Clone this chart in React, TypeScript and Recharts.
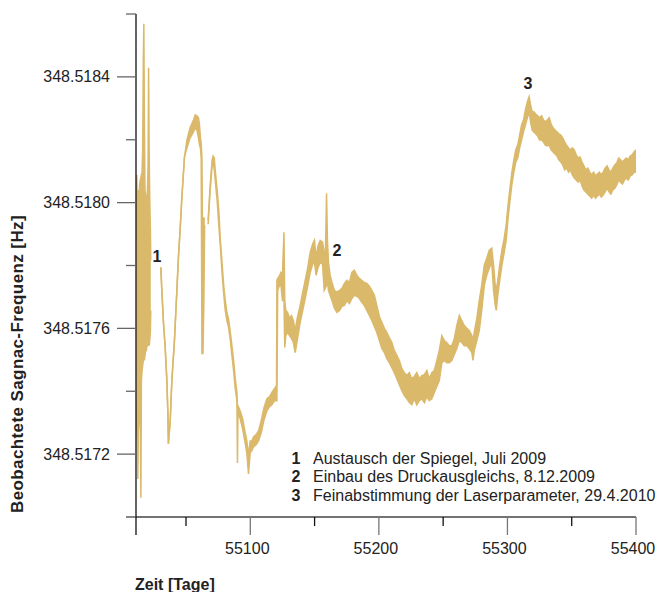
import React from "react";
import { AreaChart, Area, XAxis, YAxis } from "recharts";

const BASE_HZ = 348.517;
const FONT = '"Liberation Sans", Arial, Helvetica, sans-serif';
const LINE_COLOR = "#DBB96B";

const xStartDay = 55011.1;
const xMajorTicks = [55100, 55200, 55300, 55400];
const xMinorTicks = [55050, 55150, 55250, 55350];
const yMajorTicks = [348.5172, 348.5176, 348.518, 348.5184];
const yMinorTicks = [348.5174, 348.5178, 348.5182, 348.5186];

// [day, upper edge, lower edge] – edges in µHz above 348.517 Hz
const burst = [
  [55011.3, 880, 370], [55011.7, 1088, 274], [55012.1, 1008, 242], [55012.5, 1040, 121],
  [55012.9, 976, 274], [55013.4, 1008, 306], [55013.9, 1056, 370], [55014.4, 1072, 306],
  [55014.9, 1078, 61], [55015.3, 1088, 434], [55015.8, 1097, 466], [55016.3, 1168, 482],
  [55016.8, 1455, 498], [55017.2, 1569, 514], [55017.6, 1263, 498], [55018.1, 1040, 514],
  [55018.6, 1024, 530], [55019.1, 1008, 530], [55019.6, 992, 545], [55020.1, 1056, 545],
  [55020.5, 1120, 561], [55020.9, 1429, 552], [55021.3, 1168, 545], [55021.8, 1008, 561],
  [55022.3, 912, 593], [55022.6, 817, 657],
];

const firstArc = [
  [55030.4, 794, 794], [55031.2, 721, 721], [55032.5, 616, 616], [55033.8, 539, 539],
  [55035.1, 434, 434], [55035.9, 329, 329], [55036.3, 233, 233], [55037.7, 306, 306],
  [55039.0, 434, 434], [55041.0, 561, 561], [55042.9, 721, 721], [55044.1, 826, 826],
  [55045.4, 912, 912], [55046.8, 1018, 1018], [55048.8, 1145, 1145], [55050.7, 1199, 1174],
  [55053.2, 1238, 1206], [55055.8, 1263, 1225], [55057.2, 1279, 1238], [55058.5, 1276, 1231],
  [55059.7, 1270, 1206], [55060.5, 1247, 1183], [55061.2, 1206, 1174], [55061.8, 1190, 1142],
  [55062.4, 1142, 520], [55063.2, 689, 520], [55063.9, 951, 689], [55064.5, 951, 928],
];

const mainRun = [
  [55067.2, 944, 931], [55068.8, 1056, 1040], [55070.3, 1136, 1117], [55071.1, 1148, 1129],
  [55072.0, 1142, 1104], [55072.7, 1104, 1072], [55074.2, 1040, 1008], [55075.5, 976, 928],
  [55076.6, 887, 868], [55078.0, 810, 778], [55079.3, 737, 711], [55080.5, 689, 657],
  [55081.8, 651, 625], [55083.0, 632, 606], [55084.3, 593, 568], [55085.7, 545, 514],
  [55087.0, 498, 466], [55088.3, 440, 408], [55089.6, 396, 370], [55090.0, 348, 172],
  [55090.4, 354, 332], [55092.1, 338, 313], [55094.0, 313, 281], [55096.0, 268, 236],
  [55097.3, 242, 204], [55098.6, 195, 137], [55099.9, 242, 204], [55101.2, 242, 211],
  [55102.5, 255, 223], [55104.5, 262, 230], [55106.4, 274, 242], [55108.5, 306, 268],
  [55110.5, 345, 306], [55112.9, 376, 338], [55115.0, 383, 351], [55116.8, 396, 357],
  [55118.8, 408, 370], [55120.4, 418, 370], [55120.7, 753, 370], [55121.3, 759, 721],
  [55122.5, 766, 734], [55123.8, 778, 740], [55125.0, 769, 689], [55126.2, 906, 689],
  [55126.8, 689, 539], [55127.6, 657, 577], [55129.0, 651, 587], [55130.5, 632, 577],
  [55132.0, 641, 568], [55133.5, 625, 555], [55134.9, 593, 523], [55136.5, 632, 561],
  [55138.8, 673, 619], [55140.8, 715, 657], [55142.7, 753, 695], [55144.6, 791, 734],
  [55146.6, 842, 778], [55148.5, 868, 804], [55149.9, 880, 810], [55151.2, 823, 769],
  [55152.5, 861, 791], [55154.4, 880, 810], [55156.2, 874, 804], [55157.5, 842, 721],
  [55158.3, 810, 727], [55159.3, 1030, 737], [55160.0, 880, 753], [55160.8, 810, 721],
  [55162.1, 769, 705], [55163.5, 746, 689], [55165.4, 721, 664], [55167.4, 715, 651],
  [55169.4, 721, 657], [55171.3, 727, 670], [55173.2, 743, 673], [55175.2, 753, 689],
  [55177.1, 746, 679], [55179.0, 778, 695], [55180.9, 785, 705], [55182.9, 769, 702],
  [55184.8, 759, 695], [55186.7, 753, 683], [55188.7, 746, 673], [55190.6, 743, 657],
  [55192.6, 734, 641], [55194.5, 721, 625], [55196.5, 705, 606], [55198.4, 673, 587],
  [55200.4, 638, 561], [55202.3, 619, 536], [55204.3, 600, 523], [55206.2, 587, 504],
  [55208.1, 571, 491], [55210.1, 555, 475], [55212.0, 530, 459], [55214.0, 514, 440],
  [55215.9, 498, 421], [55217.9, 472, 402], [55219.8, 459, 386], [55221.8, 450, 376],
  [55223.7, 459, 364], [55225.6, 440, 357], [55227.6, 447, 376], [55229.5, 459, 357],
  [55231.5, 440, 370], [55233.4, 450, 376], [55235.4, 453, 364], [55237.3, 466, 383],
  [55239.2, 440, 370], [55241.2, 459, 376], [55243.1, 466, 396], [55245.1, 498, 415],
  [55247.0, 530, 434], [55249.0, 577, 491], [55250.9, 561, 498], [55252.8, 555, 491],
  [55254.8, 545, 491], [55256.7, 545, 498], [55258.7, 568, 517], [55260.6, 609, 536],
  [55262.6, 641, 561], [55264.5, 625, 555], [55266.4, 609, 545], [55268.4, 600, 545],
  [55270.3, 593, 536], [55272.3, 577, 523], [55273.2, 561, 498], [55274.2, 587, 530],
  [55276.2, 632, 561], [55278.1, 689, 593], [55280.0, 737, 657], [55282.0, 801, 737],
  [55283.9, 823, 769], [55285.9, 849, 791], [55287.8, 855, 810], [55289.2, 801, 721],
  [55290.5, 737, 673], [55291.3, 721, 657], [55292.5, 753, 705], [55294.0, 801, 753],
  [55295.7, 849, 801], [55297.5, 887, 842], [55299.0, 928, 880], [55300.5, 992, 951],
  [55302.0, 1046, 1008], [55303.5, 1097, 1059], [55305.0, 1136, 1097], [55306.5, 1168, 1129],
  [55308.0, 1183, 1142], [55309.5, 1215, 1174], [55311.0, 1247, 1199], [55312.5, 1263, 1225],
  [55314.0, 1295, 1247], [55315.5, 1321, 1270], [55316.9, 1337, 1289], [55318.0, 1311, 1257],
  [55319.2, 1289, 1231], [55320.5, 1289, 1225], [55322.0, 1282, 1219], [55323.5, 1276, 1212],
  [55325.0, 1270, 1199], [55326.5, 1276, 1199], [55328.0, 1263, 1193], [55329.5, 1257, 1183],
  [55331.0, 1263, 1180], [55332.5, 1270, 1183], [55334.0, 1250, 1168], [55335.5, 1238, 1161],
  [55337.0, 1231, 1155], [55338.5, 1225, 1148], [55340.0, 1219, 1136], [55341.5, 1215, 1129],
  [55343.0, 1206, 1120], [55344.5, 1193, 1104], [55346.0, 1183, 1110], [55347.5, 1174, 1097],
  [55349.0, 1168, 1104], [55350.5, 1174, 1088], [55352.0, 1168, 1078], [55353.5, 1152, 1072],
  [55355.0, 1142, 1065], [55356.5, 1145, 1072], [55358.0, 1129, 1053], [55359.5, 1117, 1040],
  [55361.0, 1104, 1034], [55362.5, 1110, 1027], [55364.0, 1097, 1021], [55365.5, 1088, 1014],
  [55367.0, 1097, 1024], [55368.5, 1085, 1014], [55370.0, 1091, 1021], [55371.5, 1097, 1027],
  [55373.0, 1088, 1018], [55374.5, 1097, 1024], [55376.0, 1110, 1034], [55377.5, 1117, 1046],
  [55379.0, 1104, 1034], [55380.5, 1097, 1027], [55382.0, 1110, 1040], [55383.5, 1120, 1046],
  [55385.0, 1126, 1056], [55386.5, 1142, 1072], [55388.0, 1136, 1065], [55389.5, 1129, 1059],
  [55391.0, 1136, 1072], [55392.5, 1142, 1078], [55394.0, 1136, 1072], [55395.5, 1148, 1085],
  [55397.0, 1152, 1088], [55398.5, 1161, 1097], [55400.0, 1168, 1097],
];

const events = [
  { n: "1", text: "Austausch der Spiegel, Juli 2009" },
  { n: "2", text: "Einbau des Druckausgleichs, 8.12.2009" },
  { n: "3", text: "Feinabstimmung der Laserparameter, 29.4.2010" },
];

// marker labels placed next to the trace (pixel centres)
const markers = [
  { n: "1", x: 157, y: 257 },
  { n: "2", x: 337, y: 251 },
  { n: "3", x: 528, y: 84 },
];

type Row = { day: number; band: [number, number] | null };

const segments = [burst, firstArc, mainRun];
const data: Row[] = [];
segments.forEach((seg, i) => {
  if (i > 0) {
    const prev = segments[i - 1];
    data.push({ day: (prev[prev.length - 1][0] + seg[0][0]) / 2, band: null });
  }
  for (const [day, hi, lo] of seg) {
    data.push({ day, band: [BASE_HZ + lo / 1e6, BASE_HZ + hi / 1e6] });
  }
});

function XTick(props: any) {
  const { x, y, payload } = props;
  const v = payload.value;
  if (xMajorTicks.includes(v)) {
    return (
      <g>
        <line x1={x} y1={y} x2={x} y2={y + 18} stroke="#777" strokeWidth={1.3} />
        <text x={x - 3} y={y + 31} textAnchor="middle" dominantBaseline="central" fontFamily={FONT} fontSize={16} fill="#222">
          {v}
        </text>
      </g>
    );
  }
  if (v === xStartDay) {
    return (
      <g>
        <line x1={x - 10} y1={y} x2={x} y2={y} stroke="#444" strokeWidth={1.3} />
        <line x1={x} y1={y} x2={x} y2={y + 18} stroke="#111" strokeWidth={1.3} />
      </g>
    );
  }
  return <line x1={x} y1={y} x2={x} y2={y + 9} stroke="#111" strokeWidth={1.3} />;
}

function YTick(props: any) {
  const { x, y, payload } = props;
  const v = payload.value;
  if (yMajorTicks.includes(v)) {
    return (
      <g>
        <line x1={x - 19} y1={y} x2={x} y2={y} stroke="#666" strokeWidth={1.3} />
        <text x={x - 26} y={y} textAnchor="end" dominantBaseline="central" fontFamily={FONT} fontSize={16} fill="#222">
          {v.toFixed(4)}
        </text>
      </g>
    );
  }
  return <line x1={x - 10} y1={y} x2={x} y2={y} stroke="#666" strokeWidth={1.3} />;
}

export default function App() {
  return (
    <div
      style={{
        position: "absolute",
        left: 0,
        top: 0,
        width: 659,
        height: 592,
        background: "#fff",
        fontFamily: FONT,
        color: "#222",
      }}
    >
      <AreaChart width={659} height={592} data={data} margin={{ top: 14, right: 23, bottom: 0, left: 0 }}>
        <XAxis
          type="number"
          dataKey="day"
          domain={[xStartDay, 55400]}
          ticks={[xStartDay, ...xMinorTicks, ...xMajorTicks]}
          interval={0}
          height={75}
          tickSize={0}
          tickMargin={0}
          tickLine={false}
          axisLine={{ stroke: "#444", strokeWidth: 1.3 }}
          tick={(p: any) => <XTick {...p} />}
          allowDataOverflow
        />
        <YAxis
          type="number"
          domain={[348.517, 348.5186]}
          ticks={[...yMajorTicks, ...yMinorTicks]}
          interval={0}
          width={136}
          tickSize={0}
          tickMargin={0}
          tickLine={false}
          axisLine={{ stroke: "#111", strokeWidth: 1.3 }}
          tick={(p: any) => <YTick {...p} />}
          allowDataOverflow
        />
        <Area
          type="linear"
          dataKey="band"
          stroke={LINE_COLOR}
          strokeWidth={1.5}
          fill={LINE_COLOR}
          fillOpacity={1}
          dot={false}
          activeDot={false}
          connectNulls={false}
          isAnimationActive={false}
        />
      </AreaChart>

      {/* axis titles */}
      <div
        style={{
          position: "absolute",
          left: 18 - 200,
          top: 364 - 10,
          width: 400,
          height: 20,
          lineHeight: "20px",
          textAlign: "center",
          transform: "rotate(-90deg)",
          fontWeight: 700,
          fontSize: 17,
          letterSpacing: 0.4,
        }}
      >
        Beobachtete Sagnac-Frequenz [Hz]
      </div>
      <div style={{ position: "absolute", left: 135, top: 576, lineHeight: "18px", fontWeight: 700, fontSize: 16 }}>
        Zeit [Tage]
      </div>

      {/* event markers */}
      {markers.map((m) => (
        <div
          key={m.n}
          style={{
            position: "absolute",
            left: m.x - 8,
            top: m.y - 9,
            width: 16,
            lineHeight: "18px",
            textAlign: "center",
            fontWeight: 700,
            fontSize: 16,
          }}
        >
          {m.n}
        </div>
      ))}

      {/* legend */}
      {events.map((e, i) => (
        <div
          key={e.n}
          style={{ position: "absolute", left: 288, top: 450 + i * 18.3, lineHeight: "18px", fontSize: 16, whiteSpace: "nowrap" }}
        >
          <span style={{ display: "inline-block", width: 16, textAlign: "center", fontWeight: 700 }}>{e.n}</span>
          <span style={{ marginLeft: 9 }}>{e.text}</span>
        </div>
      ))}
    </div>
  );
}
